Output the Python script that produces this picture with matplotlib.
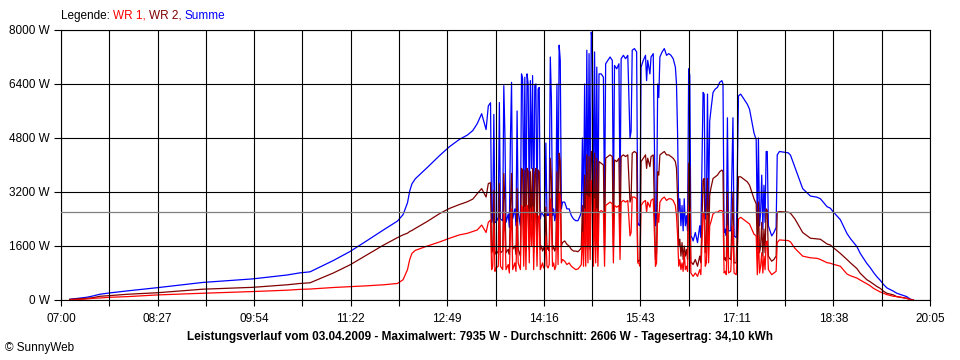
import numpy as np
import matplotlib
matplotlib.use("Agg")
import matplotlib.pyplot as plt

plt.rcParams['font.family'] = ['Liberation Sans', 'DejaVu Sans']

# time of day in minutes since midnight, power in W
t_min = [428, 443, 449, 455, 464, 480, 507, 548, 593, 624, 636, 645, 666, 681, 696, 711,
         724, 729, 733, 735, 737, 740, 751, 762, 771, 780, 787, 792, 796, 800, 804, 806, 808,
         809, 810, 811, 812, 813, 815, 816, 817, 819, 820, 821, 822, 824, 825, 826, 827,
         828, 830, 831, 832, 833, 835, 836, 837, 838, 839, 840, 841, 842, 843, 844, 845,
         846, 847, 848, 849, 850, 851, 852, 853, 854, 855, 856, 857, 858, 859, 860, 861,
         862, 863, 864, 865, 866, 867, 868, 869, 870, 871, 872, 873, 875, 877, 879, 881,
         883, 885, 887, 889, 890, 891, 892, 893, 894, 895, 896, 897, 898, 899, 900, 901,
         902, 903, 904, 905, 906, 908, 910, 911, 912, 914, 916, 918, 919, 920, 922, 924,
         925, 926, 928, 930, 932, 934, 935, 936, 938, 940, 941, 942, 943, 944, 946, 948,
         949, 950, 952, 953, 955, 957, 958, 959, 960, 961, 963, 965, 967, 969, 971, 973,
         975, 976, 977, 978, 979, 980, 981, 982, 983, 984, 985, 986, 987, 988, 989, 990,
         991, 993, 995, 997, 998, 1000, 1001, 1002, 1003, 1004, 1005, 1006, 1007, 1009,
         1011, 1013, 1015, 1017, 1018, 1019, 1020, 1021, 1022, 1023, 1025, 1027, 1028,
         1030, 1031, 1032, 1034, 1036, 1038, 1040, 1042, 1044, 1046, 1048, 1049, 1050,
         1051, 1052, 1053, 1054, 1055, 1056, 1057, 1058, 1059, 1061, 1062, 1064, 1066,
         1067, 1069, 1077, 1079, 1083, 1090, 1097, 1103, 1106, 1112, 1115, 1117, 1124,
         1130, 1133, 1139, 1142, 1148, 1151, 1154, 1157, 1160, 1163, 1166, 1172, 1175,
         1184, 1187, 1190]

wr1 = [0, 30, 50, 60, 80, 100, 150, 200, 250, 290, 315, 325, 370, 395, 420, 450,
       490, 600, 900, 1200, 1380, 1470, 1600, 1720, 1830, 1930, 1975, 2030, 2075, 2220, 2000, 2300, 2370,
       900, 1000, 2250, 850, 950, 1000, 2400, 1000, 900, 2600, 2000, 900, 1050, 800, 2000, 2700,
       900, 1100, 850, 2300, 1100, 900, 2800, 2700, 1000, 2750, 900, 2800, 2600, 1100, 2700, 1600,
       2750, 900, 2600, 2500, 1000, 2400, 2500, 900, 1000, 1100, 950, 1000, 1900, 1000, 950, 1050,
       3000, 2350, 1000, 1100, 900, 1000, 2600, 1050, 3200, 3000, 1100, 1200, 1150, 1050, 1100, 1000,
       950, 900, 920, 1000, 1050, 2000, 1000, 2700, 1000, 3100, 1100, 3050, 1200, 3535, 3300, 1000,
       3000, 1100, 2700, 1000, 2600, 2650, 2600, 1000, 2800, 2850, 2900, 2850, 1100, 2800, 2750, 2800,
       1200, 2900, 2950, 2900, 2950, 1900, 2000, 3050, 3050, 3000, 1100, 1090, 1000, 2800, 2900, 2950,
       2600, 2900, 2750, 2950, 3000, 1000, 1100, 2600, 2300, 2900, 3000, 3050, 2950, 3000, 3000, 2950,
       2800, 2500, 1900, 1000, 1200, 900, 1100, 850, 1400, 900, 1000, 850, 2800, 2700, 800, 750,
       700, 800, 700, 900, 750, 2600, 2500, 1000, 1100, 2500, 1100, 2200, 2300, 2550,
       2600, 2600, 2650, 2650, 2600, 800, 850, 750, 2200, 800, 850, 2200, 800,
       750, 1500, 2400, 2450, 2400, 2350, 2300, 2250, 2100, 1950, 1900, 750, 1900,
       800, 1000, 1400, 800, 1300, 900, 1700, 1750, 900, 800, 750, 800, 850,
       1700, 1780, 1760, 1720, 1530, 1300, 1250, 1235, 1200, 1105, 1090, 1065, 1000,
       770, 720, 650, 590, 480, 420, 345, 290, 240, 200, 160, 110, 100,
       50, 15, 0]

wr2 = [20, 50, 70, 110, 130, 170, 215, 320, 375, 450, 490, 510, 800, 1040, 1330, 1620,
       1850, 1930, 1980, 2030, 2060, 2120, 2330, 2560, 2715, 2830, 2910, 2990, 3150, 3300, 3050, 3450, 3475,
       1400, 1500, 3250, 1450, 1350, 1450, 3450, 1400, 1450, 3750, 2900, 1400, 1500, 1350, 2800, 3750,
       1500, 1600, 1350, 3300, 1500, 1300, 3900, 3850, 1600, 3850, 1450, 3900, 3800, 1500, 3800, 2300,
       3900, 1400, 3750, 3900, 1500, 3850, 3800, 1500, 1600, 1450, 1550, 1450, 2750, 1500, 1600, 1450,
       4200, 3600, 1500, 1600, 1450, 1550, 3800, 1500, 4350, 4100, 1600, 1700, 1750, 1650, 1600, 1500,
       1450, 1450, 1430, 1500, 1550, 2800, 1500, 3700, 1500, 4300, 1600, 4250, 1500, 4400, 4300, 1500,
       4350, 1600, 4200, 1500, 4100, 4050, 4000, 1500, 4200, 4250, 4300, 4250, 1600, 4150, 4100, 4200,
       1700, 4250, 4300, 4250, 4300, 2900, 3000, 4350, 4400, 4350, 1200, 1130, 1200, 4100, 4200, 4300,
       3900, 4200, 3950, 4250, 4300, 1200, 1400, 3800, 3700, 4300, 4350, 4400, 4300, 4300, 4250, 4200,
       4100, 3900, 3000, 1600, 1800, 1300, 1700, 1200, 1600, 1300, 1500, 1200, 4050, 3950, 1100, 1100,
       1050, 1200, 1000, 1300, 1100, 3550, 3600, 1400, 1700, 3600, 1600, 3100, 3300, 3600,
       3650, 3700, 3800, 3850, 3800, 1200, 1250, 1150, 3200, 1250, 1200, 3200, 1100,
       1100, 2400, 3650, 3650, 3600, 3550, 3500, 3400, 3200, 3000, 2850, 1500, 2900,
       1400, 1600, 2300, 1300, 2100, 1400, 2700, 2650, 1300, 1200, 1150, 1200, 1300,
       2600, 2620, 2600, 2570, 2400, 2000, 1830, 1810, 1800, 1660, 1630, 1570, 1380,
       1200, 1105, 930, 790, 600, 540, 470, 400, 345, 260, 200, 150, 100,
       50, 15, 0]

summe = np.array(wr1) + np.array(wr2)
avg_w = 2606

x_labels = ["07:00", "08:27", "09:54", "11:22", "12:49", "14:16", "15:43", "17:11", "18:38", "20:05"]
y_ticks = [0, 1600, 3200, 4800, 6400, 8000]
t_start, t_end = 420, 1205

fig = plt.figure(figsize=(9.6, 3.6), dpi=100)
ax = fig.add_axes([61/960, 60/360, 869/960, 270/360])

ax.plot(t_min, summe, color='#0000ff', lw=0.9)
ax.plot(t_min, wr2, color='#800000', lw=0.9)
ax.plot(t_min, wr1, color='#ff0000', lw=0.9)
ax.axhline(avg_w, color='#808080', lw=0.9, zorder=3)

ax.set_xlim(t_start, t_end)
ax.set_ylim(0, 8000)

major = np.linspace(t_start, t_end, len(x_labels))
minor = (major[:-1] + major[1:]) / 2
ax.set_xticks(major)
ax.set_xticklabels(x_labels)
ax.set_xticks(minor, minor=True)
ax.set_yticks(y_ticks)
ax.set_yticklabels([f"{v} W" for v in y_ticks])

ax.tick_params(axis='x', which='both', length=4, width=0.8, direction='out', labelsize=8.5, pad=5)
ax.tick_params(axis='y', length=5, width=0.8, direction='out', labelsize=8.5, pad=3)
ax.grid(True, which='both', axis='x', color='black', lw=0.8)
ax.grid(True, which='major', axis='y', color='black', lw=0.8)
ax.set_axisbelow(False)
for s in ax.spines.values():
    s.set_linewidth(0.8)

# legend line at the top, coloured pieces
fig.canvas.draw()
r = fig.canvas.get_renderer()
x = 61 / 960
for txt, col in [("Legende: ", "black"), ("WR 1, ", "#ff0000"), ("WR 2, ", "#800000"), ("Summe", "#0000ff")]:
    t = fig.text(x, 1 - 16/360, txt, color=col, fontsize=8.5, va='center', ha='left')
    bb = t.get_window_extent(r)
    x += bb.width / 960

fig.text(480/960, 1 - 337/360,
         "Leistungsverlauf vom 03.04.2009 - Maximalwert: 7935 W - Durchschnitt: 2606 W - Tagesertrag: 34,10 kWh",
         ha='center', va='center', fontsize=8.5, fontweight='bold')
fig.text(5/960, 1 - 348/360, "© SunnyWeb", ha='left', va='center', fontsize=8.5)

fig.savefig("out.png", dpi=100)
